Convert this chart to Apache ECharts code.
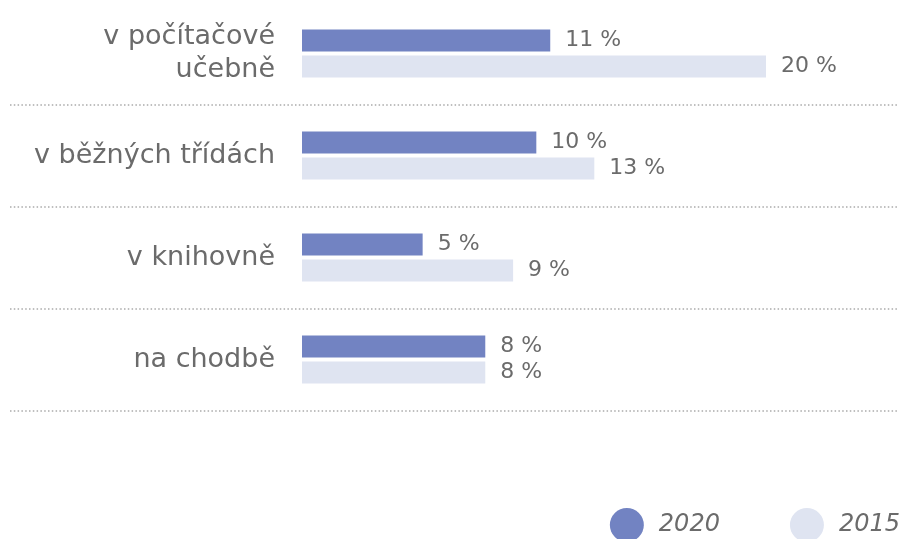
<!DOCTYPE html>
<html>
<head>
<meta charset="utf-8">
<script src="https://cdn.jsdelivr.net/npm/echarts@6/dist/echarts.min.js"></script>
<style>
  html, body { margin: 0; padding: 0; background: #fff; }
  #chart { width: 902px; height: 539px; }
</style>
</head>
<body>
<div id="chart"></div>
<script>
const categories = ['v počítačové\nučebně', 'v běžných třídách', 'v knihovně', 'na chodbě']
const seriesNames = ['2020', '2015']
const values2020 = [10.7, 10.1, 5.2, 7.9]
const values2015 = [20, 12.6, 9.1, 7.9]

const textColor = '#6b6b6b'
const fontFamily = 'DejaVu Sans, sans-serif'

const chart = echarts.init(document.getElementById('chart'))

const valueLabel = {
  show: true,
  position: 'right',
  distance: 15,
  fontSize: 22,
  color: textColor,
  fontFamily: fontFamily,
  formatter: p => Math.round(p.value) + ' %'
}

chart.setOption({
  animation: false,
  textStyle: { fontFamily: fontFamily },
  legend: {
    data: seriesNames,
    right: -3,
    top: 503,
    icon: 'circle',
    itemWidth: 34,
    itemHeight: 34,
    itemGap: 70,
    textStyle: {
      fontSize: 24,
      fontStyle: 'italic',
      color: textColor,
      padding: [0, 0, 0, 10]
    }
  },
  grid: [
    { left: 302, top: 2.5, height: 408, right: 20 },
    { left: 10, top: 2.5, height: 408, right: 4 }
  ],
  xAxis: [
    { gridIndex: 0, type: 'value', min: 0, max: 25, show: false },
    { gridIndex: 1, type: 'value', min: 0, max: 1, show: false }
  ],
  yAxis: [
    {
      gridIndex: 0,
      type: 'category',
      inverse: true,
      data: categories,
      axisLine: { show: false },
      axisTick: { show: false },
      splitLine: { show: false },
      axisLabel: {
        margin: 27,
        fontSize: 27,
        lineHeight: 33,
        color: textColor,
        align: 'right'
      }
    },
    {
      gridIndex: 1,
      type: 'category',
      inverse: true,
      data: categories,
      axisLine: { show: false },
      axisTick: { show: false },
      axisLabel: { show: false },
      splitLine: {
        show: true,
        showMinLine: false,
        lineStyle: { color: '#aaaaaa', width: 1.5, type: [1.5, 2.3] }
      }
    }
  ],
  series: [
    {
      name: seriesNames[0],
      type: 'bar',
      xAxisIndex: 0,
      yAxisIndex: 0,
      data: values2020,
      barWidth: 22,
      barGap: '18%',
      itemStyle: { color: '#7283c2' },
      label: valueLabel
    },
    {
      name: seriesNames[1],
      type: 'bar',
      xAxisIndex: 0,
      yAxisIndex: 0,
      data: values2015,
      barWidth: 22,
      barGap: '18%',
      itemStyle: { color: '#dfe4f1' },
      label: valueLabel
    }
  ]
})
</script>
</body>
</html>
